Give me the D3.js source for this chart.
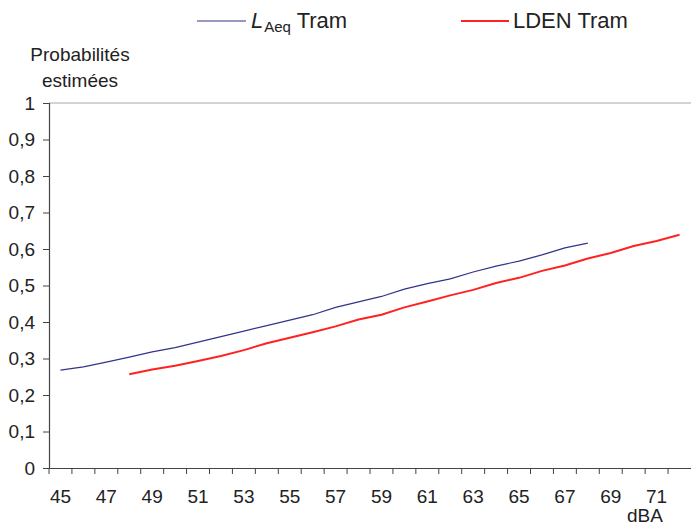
<!DOCTYPE html>
<html><head><meta charset="utf-8">
<script src="https://cdn.jsdelivr.net/npm/d3@7"></script>
<style>body{margin:0;background:#fff}svg{display:block}text{font-family:"Liberation Sans",Arial,sans-serif;fill:#222}</style>
</head><body>
<script>
const categories = d3.range(45, 73); // 45..72 dBA
const tickLabels = [45,47,49,51,53,55,57,59,61,63,65,67,69,71];
const yTicks = [0,0.1,0.2,0.3,0.4,0.5,0.6,0.7,0.8,0.9,1];
const laeqX = d3.range(45, 69);
const laeqValues = [0.268,0.277,0.290,0.304,0.318,0.330,0.345,0.360,0.375,0.390,0.405,0.420,0.440,0.455,0.470,0.490,0.505,0.518,0.537,0.553,0.567,0.584,0.603,0.616];
const ldenX = d3.range(48, 73);
const ldenValues = [0.257,0.270,0.280,0.293,0.307,0.323,0.342,0.357,0.372,0.388,0.407,0.420,0.440,0.456,0.473,0.488,0.507,0.521,0.540,0.555,0.574,0.589,0.608,0.622,0.639];

(function(){
const W = 691, H = 527;
const svg = d3.select("body").append("svg").attr("width", W).attr("height", H);
const mLeft = 49, mRight = 691, mTop = 103, mBottom = 468;
const x = d3.scaleBand().domain(categories).range([mLeft, mRight]).padding(0);
const y = d3.scaleLinear().domain([0, 1]).range([mBottom, mTop]);

svg.append("line").attr("x1", mLeft).attr("x2", mRight).attr("y1", y(1)).attr("y2", y(1))
  .attr("stroke", "#a8a8a8").attr("stroke-width", 1.2);

const ya = svg.append("g").attr("transform", `translate(${mLeft},0)`)
  .call(d3.axisLeft(y).tickValues(yTicks).tickSize(6).tickPadding(8)
    .tickFormat(d => d === 0 ? "0" : d === 1 ? "1" : d3.format(".1f")(d).replace(".", ",")));
ya.select(".domain").attr("stroke", "#444").attr("stroke-width", 1.2);
ya.selectAll(".tick line").attr("stroke", "#444");
ya.selectAll("text").style("font-size", "19px").attr("fill", "#222").attr("dy", "0.33em");

const xa = svg.append("g").attr("transform", `translate(0,${mBottom})`)
  .call(d3.axisBottom(x).tickValues([]).tickSizeOuter(0));
xa.select(".domain").attr("stroke", "#444").attr("stroke-width", 1.2);
xa.selectAll(".bt").data(categories).enter().append("line").attr("class", "bt")
  .attr("x1", d => x(d)).attr("x2", d => x(d)).attr("y1", 0).attr("y2", 6)
  .attr("stroke", "#444");
xa.selectAll(".lbl").data(tickLabels).enter().append("text").attr("class", "lbl")
  .attr("x", d => x(d) + x.bandwidth() / 2).attr("y", 35)
  .attr("text-anchor", "middle").style("font-size", "19px").text(d => d);

const cx = d => x(d) + x.bandwidth() / 2;
const line = d3.line().x(d => cx(d[0])).y(d => y(d[1]));
svg.append("path").datum(laeqX.map((d, i) => [d, laeqValues[i]]))
  .attr("d", line).attr("fill", "none").attr("stroke", "#33338a").attr("stroke-width", 1.2);
svg.append("path").datum(ldenX.map((d, i) => [d, ldenValues[i]]))
  .attr("d", line).attr("fill", "none").attr("stroke", "#ff2222").attr("stroke-width", 2);

svg.append("text").attr("x", 80).attr("y", 61).attr("text-anchor", "middle").style("font-size", "19px").text("Probabilités");
svg.append("text").attr("x", 80).attr("y", 87).attr("text-anchor", "middle").style("font-size", "19px").text("estimées");
svg.append("text").attr("x", 645).attr("y", 522).attr("text-anchor", "middle").style("font-size", "19px").text("dBA");

svg.append("line").attr("x1", 197).attr("x2", 246).attr("y1", 21).attr("y2", 21).attr("stroke", "#33338a").attr("stroke-width", 1.2);
const t1 = svg.append("text").attr("x", 251).attr("y", 28).style("font-size", "22px");
t1.append("tspan").style("font-style", "italic").text("L");
t1.append("tspan").attr("dx", 1).attr("dy", 4).style("font-size", "15px").text("Aeq");
t1.append("tspan").attr("dy", -4).text(" Tram");
svg.append("line").attr("x1", 461).attr("x2", 509).attr("y1", 21).attr("y2", 21).attr("stroke", "#ff2222").attr("stroke-width", 2);
svg.append("text").attr("x", 513).attr("y", 28).style("font-size", "22px").text("LDEN Tram");
})();
</script>
</body></html>
